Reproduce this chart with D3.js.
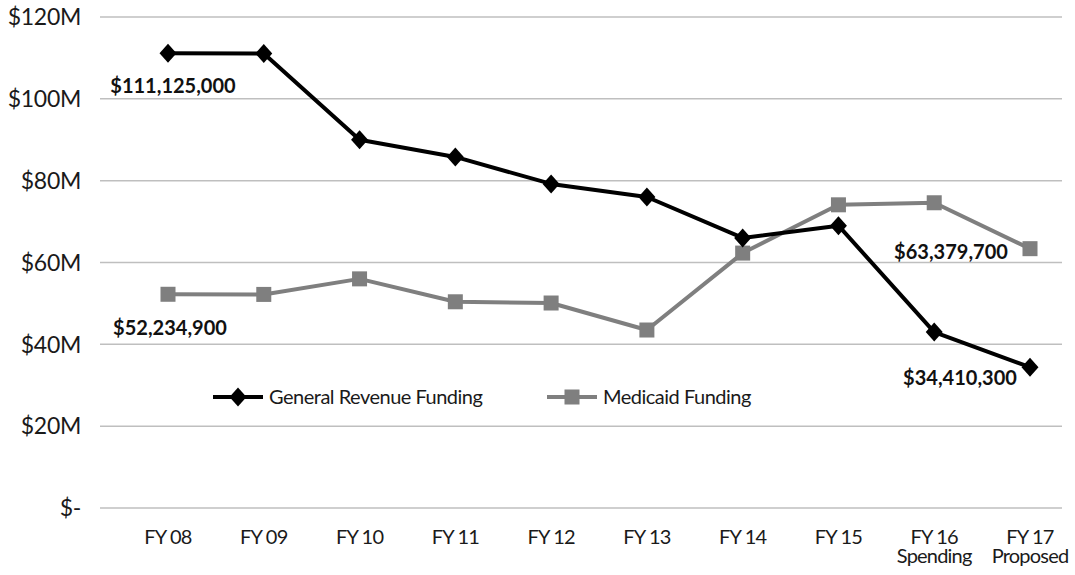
<!DOCTYPE html>
<html><head><meta charset="utf-8">
<script src="https://cdn.jsdelivr.net/npm/d3@7"></script>
<style>body{margin:0;background:#fff;} text{font-family:Lato,"Noto Sans",sans-serif;}</style>
</head><body>
<svg id="c" width="1075" height="575"></svg>
<script>
const categories = ["FY 08","FY 09","FY 10","FY 11","FY 12","FY 13","FY 14","FY 15","FY 16|Spending","FY 17|Proposed"];
const generalRevenue = [111.125, 111.1, 90.0, 85.8, 79.2, 76.0, 66.0, 69.0, 43.0, 34.4103];
const medicaid = [52.2349, 52.2, 56.0, 50.4, 50.1, 43.5, 62.3, 74.1, 74.6, 63.3797];
const yTicks = [0,20,40,60,80,100,120];
const yTickLabels = ["$-","$20M","$40M","$60M","$80M","$100M","$120M"];
const annotations = [
  {series:"gr", idx:0, text:"$111,125,000"},
  {series:"md", idx:0, text:"$52,234,900"},
  {series:"md", idx:9, text:"$63,379,700"},
  {series:"gr", idx:9, text:"$34,410,300"}
];

const svg = d3.select("#c");
const x = d3.scalePoint().domain(categories).range([168,1030]);
const y = d3.scaleLinear().domain([0,120]).range([508,17]);
const gridL = 100, gridR = 1062;

// grid
svg.append("g").selectAll("line").data(yTicks).join("line")
  .attr("x1",gridL).attr("x2",gridR)
  .attr("y1",d=>y(d)).attr("y2",d=>y(d))
  .attr("stroke","#bfbfbf").attr("stroke-width",1.5);

// y labels
svg.append("g").selectAll("text").data(yTicks).join("text")
  .attr("x",81).attr("y",d=>y(d)).attr("dy","0.36em")
  .attr("text-anchor","end").attr("font-size",23).attr("fill","#1a1a1a").attr("letter-spacing","-0.3")
  .text((d,i)=>yTickLabels[i]);

// x labels (one text element per line)
const xLines = [];
categories.forEach(c=>c.split("|").forEach((p,i)=>xLines.push({cat:c, line:i, text:p})));
svg.append("g").selectAll("text").data(xLines).join("text")
  .attr("x",d=>x(d.cat)).attr("y",d=>544+d.line*19).attr("text-anchor","middle")
  .attr("font-size",20).attr("fill","#1a1a1a").attr("letter-spacing","-0.8")
  .text(d=>d.text);

const line = d3.line().x((d,i)=>x(categories[i])).y(d=>y(d));
const diamondPath = "M0,-9.5L8.5,0L0,9.5L-8.5,0Z";

// medicaid
svg.append("path").datum(medicaid).attr("d",line).attr("fill","none")
  .attr("stroke","#7f7f7f").attr("stroke-width",4).attr("stroke-linejoin","round");
svg.append("g").selectAll("rect").data(medicaid).join("rect")
  .attr("x",(d,i)=>x(categories[i])-7.5).attr("y",d=>y(d)-7.5)
  .attr("width",15).attr("height",15).attr("fill","#7f7f7f");

// general revenue
svg.append("path").datum(generalRevenue).attr("d",line).attr("fill","none")
  .attr("stroke","#000").attr("stroke-width",4).attr("stroke-linejoin","round");
svg.append("g").selectAll("path").data(generalRevenue).join("path")
  .attr("transform",(d,i)=>`translate(${x(categories[i])},${y(d)})`)
  .attr("d",diamondPath).attr("fill","#000");

// annotations
const annPos = [
  {dx:5, dy:40},
  {dx:2, dy:41},
  {dx:-79, dy:10},
  {dx:-70, dy:18}
];
svg.append("g").selectAll("text").data(annotations).join("text")
  .attr("x",(d,i)=>x(categories[d.idx])+annPos[i].dx)
  .attr("y",(d,i)=>y(d.series==="gr"?generalRevenue[d.idx]:medicaid[d.idx])+annPos[i].dy)
  .attr("text-anchor","middle").attr("font-weight","bold").attr("font-size",20).attr("fill","#111")
  .text(d=>d.text);

// legend
const leg = [
  {label:"General Revenue Funding", color:"#000", shape:"diamond", x:213},
  {label:"Medicaid Funding", color:"#7f7f7f", shape:"square", x:547}
];
const lg = svg.append("g");
leg.forEach(l=>{
  const g = lg.append("g").attr("transform",`translate(${l.x},397)`);
  g.append("line").attr("x1",0).attr("x2",50).attr("stroke",l.color).attr("stroke-width",4);
  if(l.shape==="diamond") g.append("path").attr("d",diamondPath).attr("transform","translate(25,0)").attr("fill",l.color);
  else g.append("rect").attr("x",17.5).attr("y",-7.5).attr("width",15).attr("height",15).attr("fill",l.color);
  g.append("text").attr("x",56).attr("dy","0.35em").attr("font-size",20).attr("fill","#1a1a1a").attr("letter-spacing","-0.5").text(l.label);
});
</script>
</body></html>
